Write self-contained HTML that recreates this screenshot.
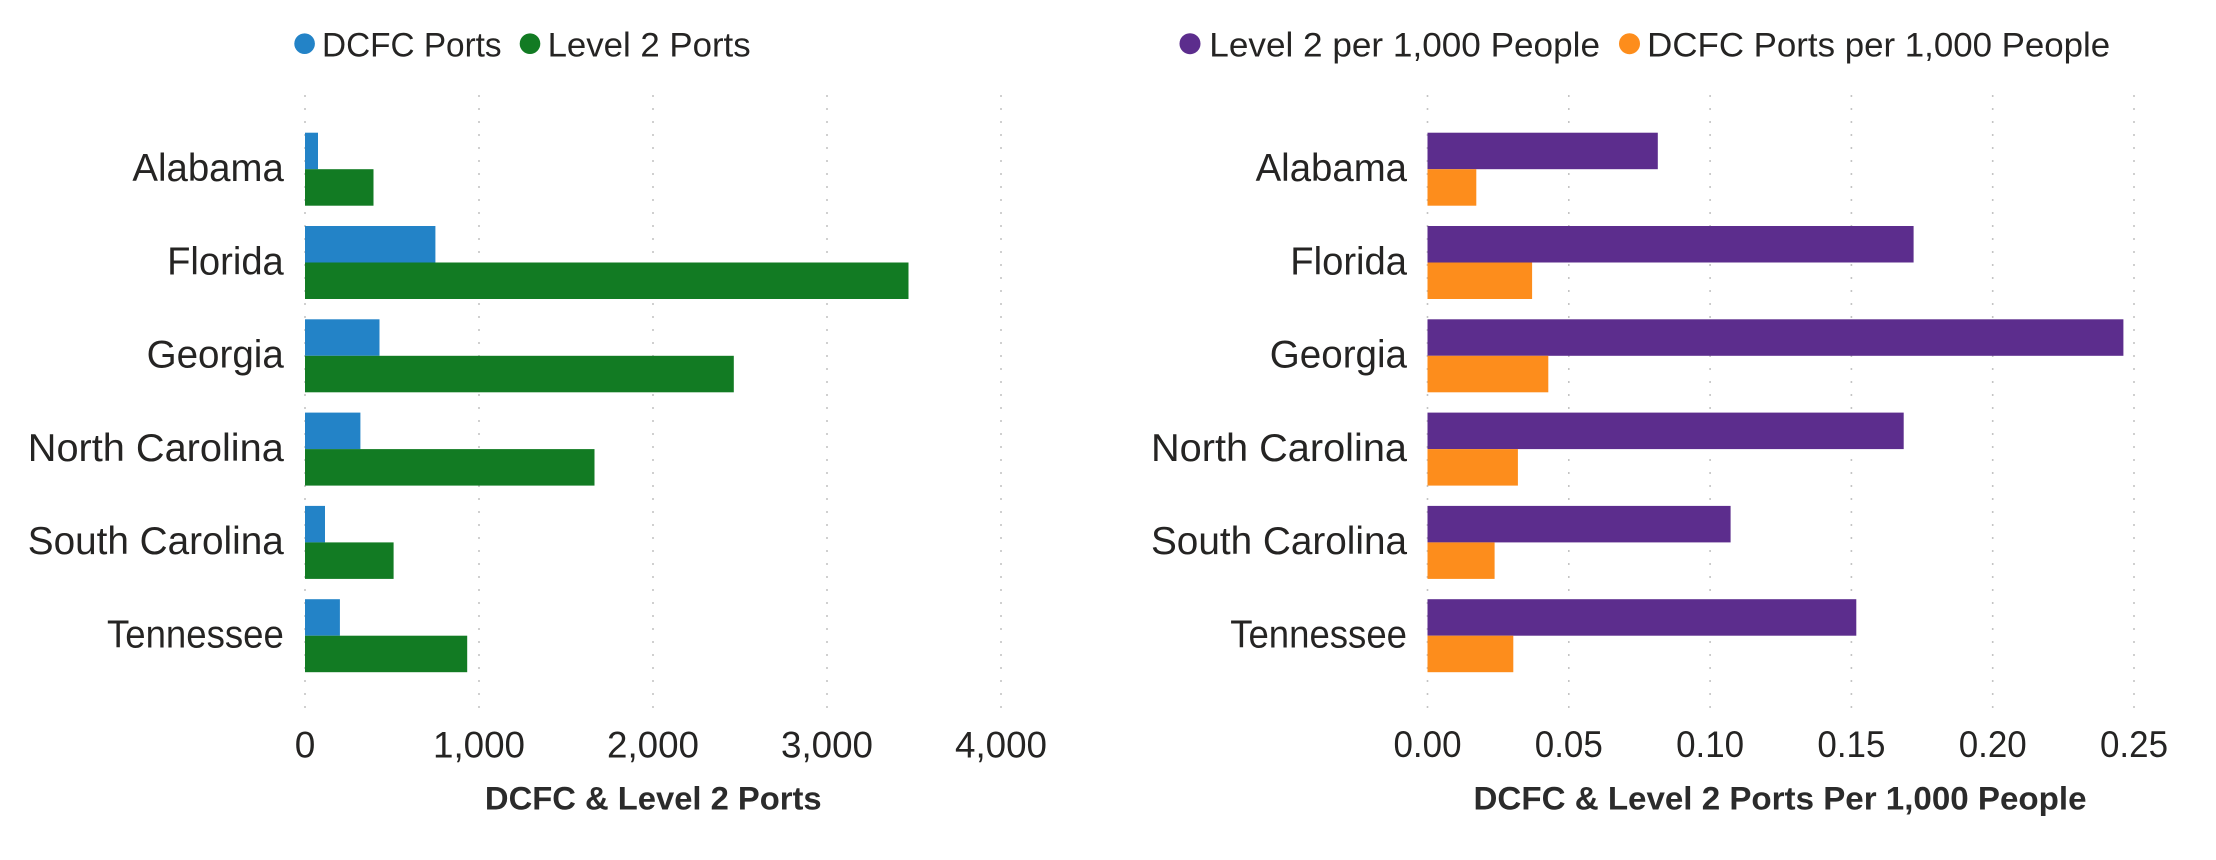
<!DOCTYPE html>
<html>
<head>
<meta charset="utf-8">
<style>
  html, body { margin: 0; padding: 0; background: #ffffff; }
  body { width: 2216px; height: 860px; overflow: hidden; }
  svg { display: block; }
  text { font-family: "Liberation Sans", Arial, sans-serif; fill: #252423; }
  .cat { font-size: 38.5px; }
  .tick { font-size: 37px; }
  .leg { font-size: 34px; }
  .ttl { font-size: 32px; font-weight: bold; fill: #2b2b2b; }
</style>
</head>
<body>
<svg width="2216" height="860" viewBox="0 0 2216 860" xmlns="http://www.w3.org/2000/svg">
  <rect x="0" y="0" width="2216" height="860" fill="#ffffff"/>

  <!-- ============ LEFT CHART ============ -->
  <circle cx="304.6" cy="43.7" r="10.3" fill="#2383c7"/>
  <text class="leg" x="322" y="56.7" textLength="179.6" lengthAdjust="spacingAndGlyphs">DCFC Ports</text>
  <circle cx="530" cy="43.7" r="10.3" fill="#127b23"/>
  <text class="leg" x="547.6" y="56.7" textLength="203" lengthAdjust="spacingAndGlyphs">Level 2 Ports</text>

  <g stroke="#c4c4c4" stroke-width="1.6" stroke-dasharray="2 11" fill="none">
    <line x1="305" y1="95" x2="305" y2="713"/>
    <line x1="479" y1="95" x2="479" y2="713"/>
    <line x1="653" y1="95" x2="653" y2="713"/>
    <line x1="827" y1="95" x2="827" y2="713"/>
    <line x1="1001" y1="95" x2="1001" y2="713"/>
  </g>

  <g fill="#2383c7">
    <rect x="305" y="132.7" width="13" height="36.5"/>
    <rect x="305" y="226.0" width="130.4" height="36.5"/>
    <rect x="305" y="319.3" width="74.5" height="36.5"/>
    <rect x="305" y="412.6" width="55.4" height="36.5"/>
    <rect x="305" y="505.9" width="20" height="36.5"/>
    <rect x="305" y="599.2" width="34.9" height="36.5"/>
  </g>
  <g fill="#127b23">
    <rect x="305" y="169.2" width="68.5" height="36.5"/>
    <rect x="305" y="262.5" width="603.5" height="36.5"/>
    <rect x="305" y="355.8" width="428.8" height="36.5"/>
    <rect x="305" y="449.1" width="289.5" height="36.5"/>
    <rect x="305" y="542.4" width="88.6" height="36.5"/>
    <rect x="305" y="635.7" width="162.2" height="36.5"/>
  </g>

  <g text-anchor="end">
    <text class="cat" x="283.8" y="181.0" textLength="151.4" lengthAdjust="spacingAndGlyphs">Alabama</text>
    <text class="cat" x="283.8" y="274.3" textLength="116.7" lengthAdjust="spacingAndGlyphs">Florida</text>
    <text class="cat" x="283.8" y="367.6" textLength="137.2" lengthAdjust="spacingAndGlyphs">Georgia</text>
    <text class="cat" x="283.8" y="460.9" textLength="256" lengthAdjust="spacingAndGlyphs">North Carolina</text>
    <text class="cat" x="283.8" y="554.2" textLength="256" lengthAdjust="spacingAndGlyphs">South Carolina</text>
    <text class="cat" x="283.8" y="647.5" textLength="176.8" lengthAdjust="spacingAndGlyphs">Tennessee</text>
  </g>

  <g text-anchor="middle">
    <text class="tick" x="305" y="757.5">0</text>
    <text class="tick" x="479" y="757.5" textLength="92" lengthAdjust="spacingAndGlyphs">1,000</text>
    <text class="tick" x="653" y="757.5" textLength="92" lengthAdjust="spacingAndGlyphs">2,000</text>
    <text class="tick" x="827" y="757.5" textLength="92" lengthAdjust="spacingAndGlyphs">3,000</text>
    <text class="tick" x="1001" y="757.5" textLength="92" lengthAdjust="spacingAndGlyphs">4,000</text>
  </g>

  <text class="ttl" x="653.3" y="809.3" text-anchor="middle" textLength="336.7" lengthAdjust="spacingAndGlyphs">DCFC &amp; Level 2 Ports</text>

  <!-- ============ RIGHT CHART ============ -->
  <circle cx="1190" cy="43.7" r="10.5" fill="#5c2d8d"/>
  <text class="leg" x="1209.3" y="56.7" textLength="390.7" lengthAdjust="spacingAndGlyphs">Level 2 per 1,000 People</text>
  <circle cx="1629.5" cy="43.7" r="10.5" fill="#fd8d1c"/>
  <text class="leg" x="1647.2" y="56.7" textLength="463" lengthAdjust="spacingAndGlyphs">DCFC Ports per 1,000 People</text>

  <g stroke="#c4c4c4" stroke-width="1.6" stroke-dasharray="2 11" fill="none">
    <line x1="1427.5" y1="95" x2="1427.5" y2="713"/>
    <line x1="1568.8" y1="95" x2="1568.8" y2="713"/>
    <line x1="1710.1" y1="95" x2="1710.1" y2="713"/>
    <line x1="1851.4" y1="95" x2="1851.4" y2="713"/>
    <line x1="1992.7" y1="95" x2="1992.7" y2="713"/>
    <line x1="2134" y1="95" x2="2134" y2="713"/>
  </g>

  <g fill="#5c2d8d">
    <rect x="1427.5" y="132.7" width="230.3" height="36.5"/>
    <rect x="1427.5" y="226.0" width="486.1" height="36.5"/>
    <rect x="1427.5" y="319.3" width="695.9" height="36.5"/>
    <rect x="1427.5" y="412.6" width="476.2" height="36.5"/>
    <rect x="1427.5" y="505.9" width="303.1" height="36.5"/>
    <rect x="1427.5" y="599.2" width="428.8" height="36.5"/>
  </g>
  <g fill="#fd8d1c">
    <rect x="1427.5" y="169.2" width="48.8" height="36.5"/>
    <rect x="1427.5" y="262.5" width="104.6" height="36.5"/>
    <rect x="1427.5" y="355.8" width="120.8" height="36.5"/>
    <rect x="1427.5" y="449.1" width="90.4" height="36.5"/>
    <rect x="1427.5" y="542.4" width="67.1" height="36.5"/>
    <rect x="1427.5" y="635.7" width="85.8" height="36.5"/>
  </g>

  <g text-anchor="end">
    <text class="cat" x="1407" y="181.0" textLength="151.4" lengthAdjust="spacingAndGlyphs">Alabama</text>
    <text class="cat" x="1407" y="274.3" textLength="116.7" lengthAdjust="spacingAndGlyphs">Florida</text>
    <text class="cat" x="1407" y="367.6" textLength="137.2" lengthAdjust="spacingAndGlyphs">Georgia</text>
    <text class="cat" x="1407" y="460.9" textLength="256" lengthAdjust="spacingAndGlyphs">North Carolina</text>
    <text class="cat" x="1407" y="554.2" textLength="256" lengthAdjust="spacingAndGlyphs">South Carolina</text>
    <text class="cat" x="1407" y="647.5" textLength="176.8" lengthAdjust="spacingAndGlyphs">Tennessee</text>
  </g>

  <g text-anchor="middle">
    <text class="tick" x="1427.5" y="757" textLength="68" lengthAdjust="spacingAndGlyphs">0.00</text>
    <text class="tick" x="1568.8" y="757" textLength="68" lengthAdjust="spacingAndGlyphs">0.05</text>
    <text class="tick" x="1710.1" y="757" textLength="68" lengthAdjust="spacingAndGlyphs">0.10</text>
    <text class="tick" x="1851.4" y="757" textLength="68" lengthAdjust="spacingAndGlyphs">0.15</text>
    <text class="tick" x="1992.7" y="757" textLength="68" lengthAdjust="spacingAndGlyphs">0.20</text>
    <text class="tick" x="2134" y="757" textLength="68" lengthAdjust="spacingAndGlyphs">0.25</text>
  </g>

  <text class="ttl" x="1780" y="809.3" text-anchor="middle" textLength="613" lengthAdjust="spacingAndGlyphs">DCFC &amp; Level 2 Ports Per 1,000 People</text>
</svg>
</body>
</html>
